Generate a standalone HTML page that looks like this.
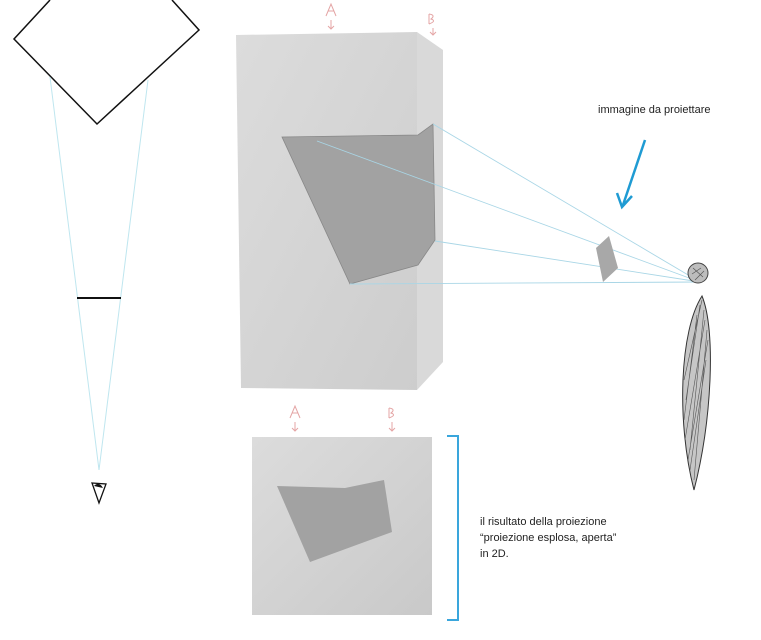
<!DOCTYPE html><html><head><style>body{margin:0;background:#fff}svg{display:block}</style></head><body>
<svg width="761" height="640" viewBox="0 0 761 640" xmlns="http://www.w3.org/2000/svg">
<defs>
<linearGradient id="g1" x1="0" y1="0" x2="1" y2="1"><stop offset="0" stop-color="#dcdcdc"/><stop offset="1" stop-color="#cdcdcd"/></linearGradient>
<linearGradient id="g2" x1="0" y1="0" x2="1" y2="1"><stop offset="0" stop-color="#dcdcdc"/><stop offset="1" stop-color="#c9c9c9"/></linearGradient>
</defs>
<polyline points="50,0 14,39 97,124 199,30 172,0" fill="none" stroke="#111" stroke-width="1.5"/>
<line x1="50" y1="77" x2="99" y2="470" stroke="#bfe6ef" stroke-width="1"/>
<line x1="148" y1="80" x2="99" y2="470" stroke="#bfe6ef" stroke-width="1"/>
<line x1="77" y1="298" x2="121" y2="298" stroke="#111" stroke-width="2"/>
<polygon points="92,483 106,484 99,503" fill="none" stroke="#111" stroke-width="1.3"/>
<path d="M94,486 Q99,481 103,488 Z" fill="#111"/>
<polygon points="236,35 417,32 417,390 241,388" fill="url(#g1)"/>
<polygon points="417,32 443,50 443,362 417,390" fill="#d9d9d9"/>
<polygon points="282,137 418,135 433,124 435,240 418,265 350,284" fill="#a2a2a2" stroke="#888" stroke-width="0.8"/>
<g stroke="#a9d6e6" stroke-width="0.9">
<line x1="433" y1="124" x2="700" y2="282"/>
<line x1="317" y1="141" x2="700" y2="282"/>
<line x1="435" y1="241" x2="700" y2="282"/>
<line x1="350" y1="284" x2="700" y2="282"/>
</g>
<polygon points="596,248 609,236 618,268 603,282" fill="#a8a8a8"/>
<g fill="none" stroke="#e4a5a5" stroke-width="1">
<path d="M326,16 L331,4 L336,16 M328,11 L334,11 M331,20 L331,29 M328,26 L331,29 L334,26"/>
<path d="M429,14 L429,24 M429,14 Q436,15 431,19 Q437,21 429,24 M433,28 L433,35 M430,32 L433,35 L436,32"/>
<path d="M290,418 L295,406 L300,418 M292,413 L298,413 M295,422 L295,431 M292,428 L295,431 L298,428"/>
<path d="M389,408 L389,418 M389,408 Q396,409 391,413 Q397,415 389,418 M392,422 L392,431 M389,428 L392,431 L395,428"/>
</g>
<circle cx="698" cy="273" r="10" fill="#bdbdbd" stroke="#444" stroke-width="1"/>
<path d="M693,268 L703,277 M692,274 L701,268 M695,280 L704,271" stroke="#555" stroke-width="0.7"/>
<path d="M702,296 C716,330 712,420 694,490 C676,420 680,330 702,296 Z" fill="#c6c6c6" stroke="#333" stroke-width="1"/>
<g stroke="#555" stroke-width="0.6" fill="none">
<path d="M700,305 L686,400 M704,310 L690,450 M707,330 L694,480 M697,315 L684,420 M706,360 L690,470 M702,300 L684,380 M708,340 L688,460 M705,320 L685,440"/>
</g>
<line x1="645" y1="140" x2="623" y2="205" stroke="#1f9bd3" stroke-width="2.5"/>
<polyline points="617,193 622,207 632,196" fill="none" stroke="#1f9bd3" stroke-width="2.5"/>
<text x="598" y="113" font-family="Liberation Sans,sans-serif" font-size="11" fill="#222">immagine da proiettare</text>
<rect x="252" y="437" width="180" height="178" fill="url(#g2)"/>
<polygon points="277,486 345,488 384,480 392,532 310,562" fill="#a2a2a2"/>
<polyline points="447,436 458,436 458,620 447,620" fill="none" stroke="#3aa6dc" stroke-width="2"/>
<g font-family="Liberation Sans,sans-serif" font-size="11" fill="#222">
<text x="480" y="525">il risultato della proiezione</text>
<text x="480" y="541">“proiezione esplosa, aperta”</text>
<text x="480" y="557">in 2D.</text>
</g>
</svg>
</body></html>
